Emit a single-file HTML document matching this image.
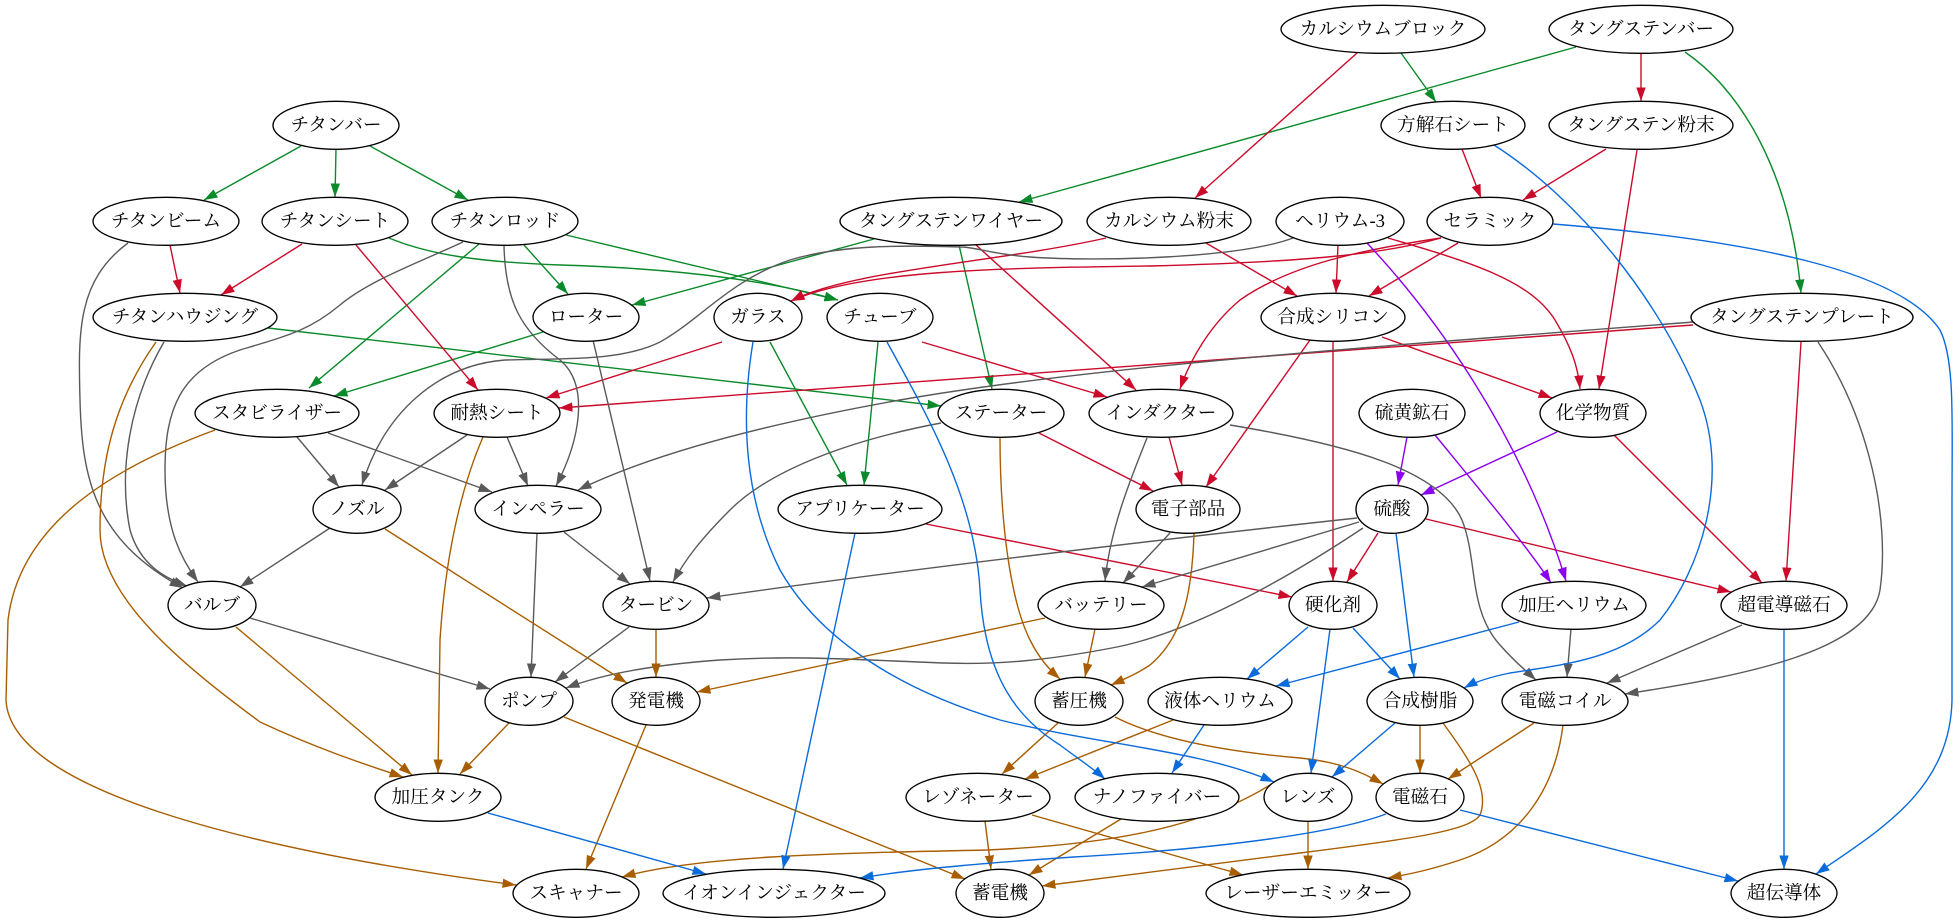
<!DOCTYPE html>
<html><head><meta charset="utf-8"><style>
html,body{margin:0;padding:0;background:#fff;width:1960px;height:923px;overflow:hidden}
svg{display:block}
text{font-family:"Liberation Serif","Noto Serif CJK SC","Noto Serif CJK JP",serif;font-size:18.67px;fill:#000;text-anchor:middle;dominant-baseline:central}
</style></head><body>
<svg width="1960" height="923" viewBox="0 0 1960 923" xmlns="http://www.w3.org/2000/svg">
<defs>
<marker id="ag" markerUnits="userSpaceOnUse" markerWidth="14" markerHeight="10" viewBox="0 0 14 10" refX="13.5" refY="5" orient="auto"><path d="M0,0.3 L13.5,5 L0,9.7 z" fill="#0a8a2a"/></marker>
<marker id="ar" markerUnits="userSpaceOnUse" markerWidth="14" markerHeight="10" viewBox="0 0 14 10" refX="13.5" refY="5" orient="auto"><path d="M0,0.3 L13.5,5 L0,9.7 z" fill="#cc0a2a"/></marker>
<marker id="ay" markerUnits="userSpaceOnUse" markerWidth="14" markerHeight="10" viewBox="0 0 14 10" refX="13.5" refY="5" orient="auto"><path d="M0,0.3 L13.5,5 L0,9.7 z" fill="#595959"/></marker>
<marker id="ao" markerUnits="userSpaceOnUse" markerWidth="14" markerHeight="10" viewBox="0 0 14 10" refX="13.5" refY="5" orient="auto"><path d="M0,0.3 L13.5,5 L0,9.7 z" fill="#a85d00"/></marker>
<marker id="ab" markerUnits="userSpaceOnUse" markerWidth="14" markerHeight="10" viewBox="0 0 14 10" refX="13.5" refY="5" orient="auto"><path d="M0,0.3 L13.5,5 L0,9.7 z" fill="#0b6bdb"/></marker>
<marker id="ap" markerUnits="userSpaceOnUse" markerWidth="14" markerHeight="10" viewBox="0 0 14 10" refX="13.5" refY="5" orient="auto"><path d="M0,0.3 L13.5,5 L0,9.7 z" fill="#8a00ee"/></marker>
</defs>
<rect width="1960" height="923" fill="#fff"/>

<g fill="none" stroke="#0a8a2a" stroke-width="1.4" marker-end="url(#ag)">
<path d="M301,146 L204,200"/>
<path d="M336,149 L335,197"/>
<path d="M370,146 L468,200"/>
<path d="M524,245 L568,294"/>
<path d="M479,244 L309,388"/>
<path d="M566,235 L838,300"/>
<path d="M389,238 C430,255 480,262 560,265 C660,268 760,278 838,300"/>
<path d="M874,239 L632,305"/>
<path d="M959,245 L992,389"/>
<path d="M268,328 L941,406"/>
<path d="M543,332 L334,396"/>
<path d="M770,342 L847,485"/>
<path d="M878,342 L864,485"/>
<path d="M1401,53 L1436,102"/>
<path d="M1576,47 L1019,202"/>
<path d="M1685,52 C1740,90 1790,170 1801,293"/>
</g>

<g fill="none" stroke="#cc0a2a" stroke-width="1.4" marker-end="url(#ar)">
<path d="M170,245 L180,293"/>
<path d="M302,244 L221,295"/>
<path d="M356,245 L478,390"/>
<path d="M1357,53 L1195,198"/>
<path d="M1641,53 L1641,101"/>
<path d="M1462,149 L1481,198"/>
<path d="M1606,149 L1523,200"/>
<path d="M1637,150 L1599,389"/>
<path d="M1106,238 C1000,262 850,270 791,301"/>
<path d="M1441,238 C1380,255 1300,262 1150,266 C1000,268 860,270 791,301"/>
<path d="M1441,238 C1360,250 1290,265 1240,300 C1210,325 1190,360 1180,389"/>
<path d="M1338,245 L1336,293"/>
<path d="M1458,243 L1369,296"/>
<path d="M1206,243 L1297,296"/>
<path d="M1388,238 C1470,262 1530,280 1555,320 C1570,345 1578,365 1580,389"/>
<path d="M1382,337 L1552,398"/>
<path d="M976,245 L1136,390"/>
<path d="M922,342 L1107,397"/>
<path d="M722,342 L546,398"/>
<path d="M1693,325 L559,408"/>
<path d="M1169,437 L1182,485"/>
<path d="M1039,433 L1153,491"/>
<path d="M1310,340 L1206,487"/>
<path d="M1333,341 L1333,581"/>
<path d="M1378,533 L1347,582"/>
<path d="M926,524 L1292,597"/>
<path d="M1426,519 L1731,592"/>
<path d="M1614,435 L1762,583"/>
<path d="M1801,342 L1786,581"/>
</g>

<g fill="none" stroke="#8a00ee" stroke-width="1.4" marker-end="url(#ap)">
<path d="M1407,437 L1398,485"/>
<path d="M1557,432 L1421,495"/>
<path d="M1435,435 C1480,490 1530,550 1551,583"/>
<path d="M1367,243 C1430,310 1520,430 1566,581"/>
</g>

<g fill="none" stroke="#595959" stroke-width="1.4" marker-end="url(#ay)">
<path d="M128,243 C78,280 78,330 80,400 C82,480 95,540 183,588"/>
<path d="M164,342 C130,400 118,470 130,530 C140,565 165,578 187,586"/>
<path d="M463,242 C420,262 370,280 340,305 C310,330 290,335 240,350 C180,370 165,410 165,470 C165,530 182,560 198,582"/>
<path d="M504,245 C505,300 520,330 560,360 C590,385 580,440 556,486"/>
<path d="M1293,238 C1240,258 1100,262 1030,257 C990,254 975,247 961,247 C900,245 840,245 790,260 C730,280 700,320 660,342 C620,362 560,358 505,360 C440,365 385,410 362,485"/>
<path d="M297,437 L339,487"/>
<path d="M328,433 L492,492"/>
<path d="M467,435 L385,490"/>
<path d="M507,437 L528,486"/>
<path d="M1693,322 C1400,345 1100,365 900,400 C760,425 650,455 578,490"/>
<path d="M593,340 L650,581"/>
<path d="M564,532 L630,584"/>
<path d="M537,533 L531,677"/>
<path d="M330,528 L240,587"/>
<path d="M250,618 L490,689"/>
<path d="M629,627 L555,682"/>
<path d="M941,423 C850,440 770,470 730,510 C700,540 685,560 673,582"/>
<path d="M1357,518 C1200,535 900,570 707,598"/>
<path d="M1359,522 L1142,587"/>
<path d="M1363,528 C1300,570 1200,630 1117,647 C1050,660 1000,665 944,663 C860,660 800,655 720,660 C650,665 600,675 566,688"/>
<path d="M1147,438 C1130,480 1110,530 1105,581"/>
<path d="M1170,533 L1123,583"/>
<path d="M1230,425 C1350,445 1440,470 1462,520 C1478,560 1468,610 1500,645 C1515,662 1525,670 1536,680"/>
<path d="M1571,629 L1567,677"/>
<path d="M1742,625 L1607,683"/>
<path d="M1818,342 C1870,420 1890,520 1880,590 C1870,650 1750,675 1625,694"/>
</g>

<g fill="none" stroke="#a85d00" stroke-width="1.4" marker-end="url(#ao)">
<path d="M156,342 C115,400 100,460 100,530 C100,600 190,670 260,722 C320,750 370,766 403,777"/>
<path d="M215,430 C120,465 20,520 8,620 L6,700 C10,790 250,850 516,885"/>
<path d="M483,437 C460,490 445,560 440,640 L438,773"/>
<path d="M385,529 L627,683"/>
<path d="M236,627 L412,775"/>
<path d="M509,723 L460,774"/>
<path d="M564,717 L965,879"/>
<path d="M646,725 L586,869"/>
<path d="M656,629 L656,677"/>
<path d="M1045,618 L697,692"/>
<path d="M1095,629 L1085,677"/>
<path d="M1000,437 C1000,520 1010,600 1030,640 C1040,660 1050,670 1060,679"/>
<path d="M1194,533 C1192,600 1180,640 1150,665 C1135,675 1122,680 1111,685"/>
<path d="M1058,723 L1002,774"/>
<path d="M1173,720 L1025,779"/>
<path d="M1115,717 C1160,740 1230,752 1300,758 C1340,762 1362,772 1383,784"/>
<path d="M985,821 L991,869"/>
<path d="M1032,815 L1243,875"/>
<path d="M1121,819 L1029,875"/>
<path d="M1273,783 C1200,830 1100,845 987,850 C850,853 700,855 622,877"/>
<path d="M1308,821 L1308,869"/>
<path d="M1420,725 L1420,773"/>
<path d="M1443,723 C1470,760 1490,790 1480,815 C1470,830 1420,838 1300,853 C1200,866 1100,878 1042,886"/>
<path d="M1534,723 L1448,779"/>
<path d="M1563,725 C1555,790 1520,840 1460,860 C1430,870 1410,874 1388,878"/>
</g>

<g fill="none" stroke="#0b6bdb" stroke-width="1.4" marker-end="url(#ab)">
<path d="M1494,145 C1580,200 1660,300 1700,400 C1730,480 1700,570 1660,620 C1620,660 1560,665 1510,673 C1490,677 1475,682 1464,688"/>
<path d="M1553,224 C1750,240 1900,270 1940,330 C1955,360 1952,420 1952,500 L1952,700 C1950,790 1880,830 1816,874"/>
<path d="M753,342 C740,420 745,500 780,570 C820,640 900,690 1000,720 C1100,745 1200,750 1274,782"/>
<path d="M887,342 C930,420 975,500 980,590 C985,680 1020,720 1060,745 C1080,760 1095,770 1105,779"/>
<path d="M855,533 L783,869"/>
<path d="M488,813 L706,874"/>
<path d="M1386,814 C1330,835 1200,850 1074,857 C1000,862 920,868 860,878"/>
<path d="M1460,810 L1738,881"/>
<path d="M1784,629 L1784,869"/>
<path d="M1308,627 L1247,679"/>
<path d="M1353,628 L1400,679"/>
<path d="M1330,629 L1311,773"/>
<path d="M1396,533 L1414,677"/>
<path d="M1519,622 L1276,686"/>
<path d="M1204,725 L1172,773"/>
<path d="M1395,723 L1332,777"/>
</g>

<g fill="#fff" stroke="#000" stroke-width="1.35">
<ellipse cx="1383" cy="29.3" rx="102" ry="24"/>
<ellipse cx="1641" cy="29.3" rx="92" ry="24"/>
<ellipse cx="336" cy="125.3" rx="63" ry="24"/>
<ellipse cx="1453" cy="125.3" rx="72" ry="24"/>
<ellipse cx="1641" cy="125.3" rx="92" ry="24"/>
<ellipse cx="166" cy="221.3" rx="73" ry="24"/>
<ellipse cx="335" cy="221.3" rx="73" ry="24"/>
<ellipse cx="505" cy="221.3" rx="73" ry="24"/>
<ellipse cx="951" cy="221.3" rx="111" ry="24"/>
<ellipse cx="1169" cy="221.3" rx="82" ry="24"/>
<ellipse cx="1340" cy="221.3" rx="64" ry="24"/>
<ellipse cx="1490" cy="221.3" rx="63" ry="24"/>
<ellipse cx="185" cy="317.3" rx="92" ry="24"/>
<ellipse cx="586" cy="317.3" rx="53" ry="24"/>
<ellipse cx="758" cy="317.3" rx="44" ry="24"/>
<ellipse cx="880" cy="317.3" rx="53" ry="24"/>
<ellipse cx="1333" cy="317.3" rx="72" ry="24"/>
<ellipse cx="1802" cy="317.3" rx="111" ry="24"/>
<ellipse cx="277" cy="413.3" rx="82" ry="24"/>
<ellipse cx="497" cy="413.3" rx="63" ry="24"/>
<ellipse cx="1001" cy="413.3" rx="63" ry="24"/>
<ellipse cx="1161" cy="413.3" rx="72" ry="24"/>
<ellipse cx="1412" cy="413.3" rx="53" ry="24"/>
<ellipse cx="1593" cy="413.3" rx="53" ry="24"/>
<ellipse cx="357" cy="509.3" rx="44" ry="24"/>
<ellipse cx="538" cy="509.3" rx="63" ry="24"/>
<ellipse cx="860" cy="509.3" rx="82" ry="24"/>
<ellipse cx="1188" cy="509.3" rx="52" ry="24"/>
<ellipse cx="1392" cy="509.3" rx="36" ry="24"/>
<ellipse cx="212" cy="605.3" rx="44" ry="24"/>
<ellipse cx="656" cy="605.3" rx="53" ry="24"/>
<ellipse cx="1101" cy="605.3" rx="63" ry="24"/>
<ellipse cx="1333" cy="605.3" rx="44" ry="24"/>
<ellipse cx="1574" cy="605.3" rx="72" ry="24"/>
<ellipse cx="1784" cy="605.3" rx="63" ry="24"/>
<ellipse cx="529" cy="701.3" rx="44" ry="24"/>
<ellipse cx="656" cy="701.3" rx="44" ry="24"/>
<ellipse cx="1079" cy="701.3" rx="44" ry="24"/>
<ellipse cx="1220" cy="701.3" rx="72" ry="24"/>
<ellipse cx="1420" cy="701.3" rx="53" ry="24"/>
<ellipse cx="1565" cy="701.3" rx="63" ry="24"/>
<ellipse cx="438" cy="797.3" rx="63" ry="24"/>
<ellipse cx="978" cy="797.3" rx="72" ry="24"/>
<ellipse cx="1157" cy="797.3" rx="82" ry="24"/>
<ellipse cx="1308" cy="797.3" rx="44" ry="24"/>
<ellipse cx="1420" cy="797.3" rx="44" ry="24"/>
<ellipse cx="576" cy="893.3" rx="63" ry="24"/>
<ellipse cx="774" cy="893.3" rx="111" ry="24"/>
<ellipse cx="1000" cy="893.3" rx="44" ry="24"/>
<ellipse cx="1308" cy="893.3" rx="102" ry="24"/>
<ellipse cx="1784" cy="893.3" rx="53" ry="24"/>
</g>

<g>
<text x="1383" y="29.3">カルシウムブロック</text>
<text x="1641" y="29.3">タングステンバー</text>
<text x="336" y="125.3">チタンバー</text>
<text x="1453" y="125.3">方解石シート</text>
<text x="1641" y="125.3">タングステン粉末</text>
<text x="166" y="221.3">チタンビーム</text>
<text x="335" y="221.3">チタンシート</text>
<text x="505" y="221.3">チタンロッド</text>
<text x="951" y="221.3">タングステンワイヤー</text>
<text x="1169" y="221.3">カルシウム粉末</text>
<text x="1340" y="221.3">ヘリウム-3</text>
<text x="1490" y="221.3">セラミック</text>
<text x="185" y="317.3">チタンハウジング</text>
<text x="586" y="317.3">ローター</text>
<text x="758" y="317.3">ガラス</text>
<text x="880" y="317.3">チューブ</text>
<text x="1333" y="317.3">合成シリコン</text>
<text x="1802" y="317.3">タングステンプレート</text>
<text x="277" y="413.3">スタビライザー</text>
<text x="497" y="413.3">耐熱シート</text>
<text x="1001" y="413.3">ステーター</text>
<text x="1161" y="413.3">インダクター</text>
<text x="1412" y="413.3">硫黄鉱石</text>
<text x="1593" y="413.3">化学物質</text>
<text x="357" y="509.3">ノズル</text>
<text x="538" y="509.3">インペラー</text>
<text x="860" y="509.3">アプリケーター</text>
<text x="1188" y="509.3">電子部品</text>
<text x="1392" y="509.3">硫酸</text>
<text x="212" y="605.3">バルブ</text>
<text x="656" y="605.3">タービン</text>
<text x="1101" y="605.3">バッテリー</text>
<text x="1333" y="605.3">硬化剤</text>
<text x="1574" y="605.3">加圧ヘリウム</text>
<text x="1784" y="605.3">超電導磁石</text>
<text x="529" y="701.3">ポンプ</text>
<text x="656" y="701.3">発電機</text>
<text x="1079" y="701.3">蓄圧機</text>
<text x="1220" y="701.3">液体ヘリウム</text>
<text x="1420" y="701.3">合成樹脂</text>
<text x="1565" y="701.3">電磁コイル</text>
<text x="438" y="797.3">加圧タンク</text>
<text x="978" y="797.3">レゾネーター</text>
<text x="1157" y="797.3">ナノファイバー</text>
<text x="1308" y="797.3">レンズ</text>
<text x="1420" y="797.3">電磁石</text>
<text x="576" y="893.3">スキャナー</text>
<text x="774" y="893.3">イオンインジェクター</text>
<text x="1000" y="893.3">蓄電機</text>
<text x="1308" y="893.3">レーザーエミッター</text>
<text x="1784" y="893.3">超伝導体</text>
</g>
</svg>
</body></html>
